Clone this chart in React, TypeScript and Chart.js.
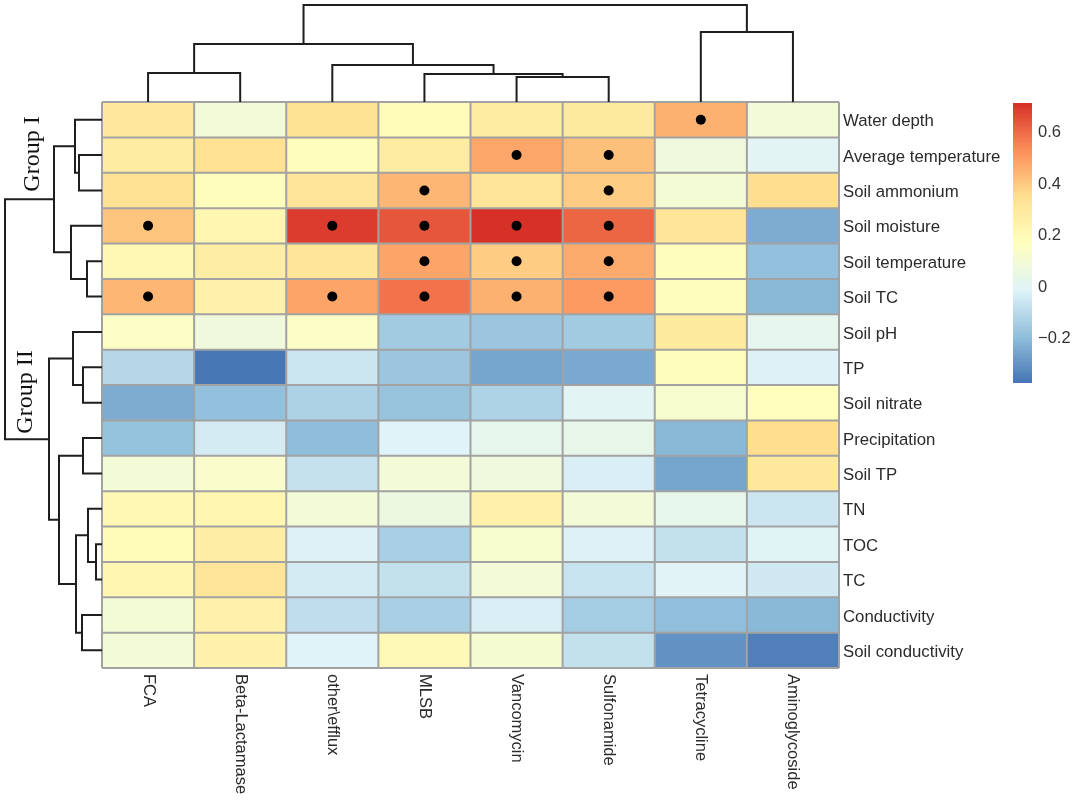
import React, { useEffect, useRef } from "react";
import { Chart, registerables } from "chart.js";

Chart.register(...registerables);

// ---------- DATA ----------
const genes = [
  "FCA",
  "Beta-Lactamase",
  "other\\efflux",
  "MLSB",
  "Vancomycin",
  "Sulfonamide",
  "Tetracycline",
  "Aminoglycoside",
];

const factors = [
  "Water depth",
  "Average temperature",
  "Soil ammonium",
  "Soil moisture",
  "Soil temperature",
  "Soil TC",
  "Soil pH",
  "TP",
  "Soil nitrate",
  "Precipitation",
  "Soil TP",
  "TN",
  "TOC",
  "TC",
  "Conductivity",
  "Soil conductivity",
];

// correlation values, one array per gene column (rows follow `factors`)
const fca = [0.30, 0.28, 0.34, 0.41, 0.21, 0.44, 0.15, -0.11, -0.24, -0.185, 0.09, 0.21, 0.19, 0.22, 0.10, 0.09];
const betaLactamase = [0.09, 0.34, 0.18, 0.22, 0.27, 0.25, 0.08, -0.37, -0.19, -0.04, 0.13, 0.22, 0.27, 0.32, 0.25, 0.24];
const otherEfflux = [0.33, 0.18, 0.32, 0.686, 0.32, 0.48, 0.15, -0.06, -0.13, -0.2, -0.075, 0.09, -0.02, -0.04, -0.09, -0.015];
const mlsb = [0.19, 0.28, 0.44, 0.636, 0.48, 0.58, -0.155, -0.17, -0.18, -0.013, 0.09, 0.06, -0.14, -0.08, -0.14, 0.2];
const vancomycin = [0.28, 0.475, 0.32, 0.71, 0.39, 0.45, -0.17, -0.26, -0.125, 0.03, 0.07, 0.25, 0.12, 0.09, -0.03, 0.11];
const sulfonamide = [0.29, 0.418, 0.39, 0.605, 0.464, 0.5, -0.155, -0.25, 0.0, 0.035, -0.03, 0.09, -0.02, -0.07, -0.15, -0.08];
const tetracycline = [0.45, 0.073, 0.10, 0.32, 0.18, 0.18, 0.29, 0.18, 0.12, -0.21, -0.26, 0.03, -0.08, -0.01, -0.195, -0.306];
const aminoglycoside = [0.09, 0.0, 0.35, -0.24, -0.19, -0.21, 0.02, -0.02, 0.175, 0.35, 0.3, -0.06, -0.005, -0.05, -0.21, -0.35];

const columns = [fca, betaLactamase, otherEfflux, mlsb, vancomycin, sulfonamide, tetracycline, aminoglycoside];

// significant correlations: [factor, gene]
const significant: [string, string][] = [
  ["Water depth", "Tetracycline"],
  ["Average temperature", "Vancomycin"],
  ["Average temperature", "Sulfonamide"],
  ["Soil ammonium", "MLSB"],
  ["Soil ammonium", "Sulfonamide"],
  ["Soil moisture", "FCA"],
  ["Soil moisture", "other\\efflux"],
  ["Soil moisture", "MLSB"],
  ["Soil moisture", "Vancomycin"],
  ["Soil moisture", "Sulfonamide"],
  ["Soil temperature", "MLSB"],
  ["Soil temperature", "Vancomycin"],
  ["Soil temperature", "Sulfonamide"],
  ["Soil TC", "FCA"],
  ["Soil TC", "other\\efflux"],
  ["Soil TC", "MLSB"],
  ["Soil TC", "Vancomycin"],
  ["Soil TC", "Sulfonamide"],
];

// column dendrogram merges: [childA, childB, height]; leaves 0..7, merge k -> node 8+k
const colMerges: [number, number, number][] = [
  [4, 5, 25],
  [3, 8, 28],
  [0, 1, 29],
  [2, 9, 37],
  [10, 11, 58],
  [6, 7, 70],
  [12, 13, 97],
];

// row dendrogram merges: leaves 0..15, merge k -> node 16+k
const rowMerges: [number, number, number][] = [
  [1, 2, 23],
  [0, 16, 27],
  [4, 5, 15],
  [3, 18, 31],
  [17, 19, 48],
  [7, 8, 19],
  [6, 21, 29],
  [9, 10, 19],
  [12, 13, 6],
  [11, 24, 14],
  [14, 15, 20],
  [25, 26, 26],
  [23, 27, 43],
  [22, 28, 53],
  [20, 29, 97],
];

const groupLabels = ["Group I", "Group II"];
const colorbarTicks = [0.6, 0.4, 0.2, 0, -0.2];
const scaleMin = -0.375;
const scaleMax = 0.71;

// ---------- STYLE ----------
const palette = ["#4575B4", "#91BFDB", "#E0F3F8", "#FFFFBF", "#FEE090", "#FC8D59", "#D73027"];

function hexToRgb(h: string) {
  const n = parseInt(h.slice(1), 16);
  return [(n >> 16) & 255, (n >> 8) & 255, n & 255];
}

function colorFor(v: number): string {
  const t = Math.min(1, Math.max(0, (v - scaleMin) / (scaleMax - scaleMin)));
  const seg = t * (palette.length - 1);
  const i = Math.min(palette.length - 2, Math.floor(seg));
  const f = seg - i;
  const a = hexToRgb(palette[i]);
  const b = hexToRgb(palette[i + 1]);
  const c = a.map((x, k) => Math.round(x + (b[k] - x) * f));
  return `rgb(${c[0]},${c[1]},${c[2]})`;
}

const SANS = "'Liberation Sans', Arial, sans-serif";
const SERIF = "'Liberation Serif', 'Times New Roman', serif";

const decorPlugin = {
  id: "decor",
  afterDraw(chart: any) {
    const ctx: CanvasRenderingContext2D = chart.ctx;
    const area = chart.chartArea;
    const xs = chart.scales.x;
    const ys = chart.scales.y;
    const nC = genes.length;
    const nR = factors.length;

    ctx.save();
    // grid lines
    ctx.strokeStyle = "#a2a2a2";
    ctx.lineWidth = 2;
    ctx.beginPath();
    for (let j = 0; j <= nC; j++) {
      const x = xs.getPixelForValue(j - 0.5);
      ctx.moveTo(x, area.top);
      ctx.lineTo(x, area.bottom);
    }
    for (let i = 0; i <= nR; i++) {
      const y = ys.getPixelForValue(i);
      ctx.moveTo(area.left, y);
      ctx.lineTo(area.right, y);
    }
    ctx.stroke();

    // dendrograms
    ctx.strokeStyle = "#1e1e1e";
    ctx.lineWidth = 2;
    ctx.lineJoin = "miter";
    const depthSpan = 97;

    const drawDendro = (
      merges: [number, number, number][],
      n: number,
      leafPos: (i: number) => number,
      horizontal: boolean,
      base: number
    ) => {
      const maxH = merges[merges.length - 1][2];
      const pos: number[] = [];
      const hgt: number[] = [];
      for (let i = 0; i < n; i++) {
        pos[i] = leafPos(i);
        hgt[i] = 0;
      }
      const d = (h: number) => base - (h / maxH) * depthSpan;
      merges.forEach(([a, b, h], k) => {
        const pa = pos[a];
        const pb = pos[b];
        ctx.beginPath();
        if (horizontal) {
          ctx.moveTo(pa, d(hgt[a]));
          ctx.lineTo(pa, d(h));
          ctx.lineTo(pb, d(h));
          ctx.lineTo(pb, d(hgt[b]));
        } else {
          ctx.moveTo(d(hgt[a]), pa);
          ctx.lineTo(d(h), pa);
          ctx.lineTo(d(h), pb);
          ctx.lineTo(d(hgt[b]), pb);
        }
        ctx.stroke();
        pos[n + k] = (pa + pb) / 2;
        hgt[n + k] = h;
      });
    };
    drawDendro(colMerges, nC, (i) => xs.getPixelForValue(i), true, area.top);
    drawDendro(rowMerges, nR, (i) => ys.getPixelForValue(i + 0.5), false, area.left);

    // row labels
    ctx.fillStyle = "#2b2b2b";
    ctx.font = `16.8px ${SANS}`;
    ctx.textAlign = "left";
    ctx.textBaseline = "middle";
    factors.forEach((f, i) => {
      ctx.fillText(f, area.right + 4, ys.getPixelForValue(i + 0.5) + 2);
    });

    // column labels (rotated clockwise)
    ctx.font = `16.5px ${SANS}`;
    genes.forEach((g, j) => {
      ctx.save();
      ctx.translate(xs.getPixelForValue(j), area.bottom + 6);
      ctx.rotate(Math.PI / 2);
      ctx.textAlign = "left";
      ctx.textBaseline = "middle";
      ctx.fillText(g, 0, 0);
      ctx.restore();
    });

    // group labels
    ctx.fillStyle = "#111";
    ctx.font = `24px ${SERIF}`;
    const groupPos = [
      [39, 154],
      [32, 392],
    ];
    groupLabels.forEach((g, k) => {
      ctx.save();
      ctx.translate(groupPos[k][0], groupPos[k][1]);
      ctx.rotate(-Math.PI / 2);
      ctx.textAlign = "center";
      ctx.textBaseline = "alphabetic";
      ctx.fillText(g, 0, 0);
      ctx.restore();
    });

    // colour bar
    const cbX = 1013;
    const cbW = 19;
    const cbTop = 103;
    const cbBot = 383;
    const steps = 140;
    for (let s = 0; s < steps; s++) {
      const y0 = cbTop + ((cbBot - cbTop) * s) / steps;
      const y1 = cbTop + ((cbBot - cbTop) * (s + 1)) / steps;
      const v = scaleMax - ((s + 0.5) / steps) * (scaleMax - scaleMin);
      ctx.fillStyle = colorFor(v);
      ctx.fillRect(cbX, Math.floor(y0), cbW, Math.ceil(y1) - Math.floor(y0));
    }
    ctx.fillStyle = "#333";
    ctx.font = `16.5px ${SANS}`;
    ctx.textAlign = "left";
    ctx.textBaseline = "middle";
    colorbarTicks.forEach((v) => {
      const y = cbTop + ((scaleMax - v) / (scaleMax - scaleMin)) * (cbBot - cbTop);
      const label = v < 0 ? "\u2212" + String(Math.abs(v)) : String(v);
      ctx.fillText(label, cbX + cbW + 6, y + 1);
    });

    ctx.restore();
  },
};

export default function App() {
  const ref = useRef<HTMLCanvasElement | null>(null);

  useEffect(() => {
    if (!ref.current) return;
    const barDatasets = factors.map((f, i) => ({
      type: "bar" as const,
      label: f,
      data: genes.map(() => [i, i + 1]),
      backgroundColor: columns.map((col) => colorFor(col[i])),
      borderWidth: 0,
      grouped: false,
      barPercentage: 1,
      categoryPercentage: 1,
      order: 2,
    }));
    const dots = {
      type: "scatter" as const,
      label: "significant",
      data: significant.map(([f, g]) => ({ x: g, y: factors.indexOf(f) + 0.5 })),
      backgroundColor: "#000",
      borderWidth: 0,
      pointRadius: 5,
      order: 1,
    };
    const chart = new Chart(ref.current, {
      type: "bar",
      data: { labels: genes, datasets: [...barDatasets, dots] as any },
      options: {
        responsive: false,
        animation: false,
        events: [],
        layout: { padding: { left: 102, top: 102, right: 241, bottom: 140 } },
        plugins: { legend: { display: false }, tooltip: { enabled: false } },
        scales: {
          x: { type: "category", display: false, offset: true },
          y: { type: "linear", display: false, min: 0, max: factors.length, reverse: true },
        },
      },
      plugins: [decorPlugin],
    });
    return () => chart.destroy();
  }, []);

  return (
    <div style={{ position: "absolute", left: 0, top: 0, width: 1080, height: 808, background: "#fff" }}>
      <canvas ref={ref} width={1080} height={808} style={{ display: "block" }} />
    </div>
  );
}
